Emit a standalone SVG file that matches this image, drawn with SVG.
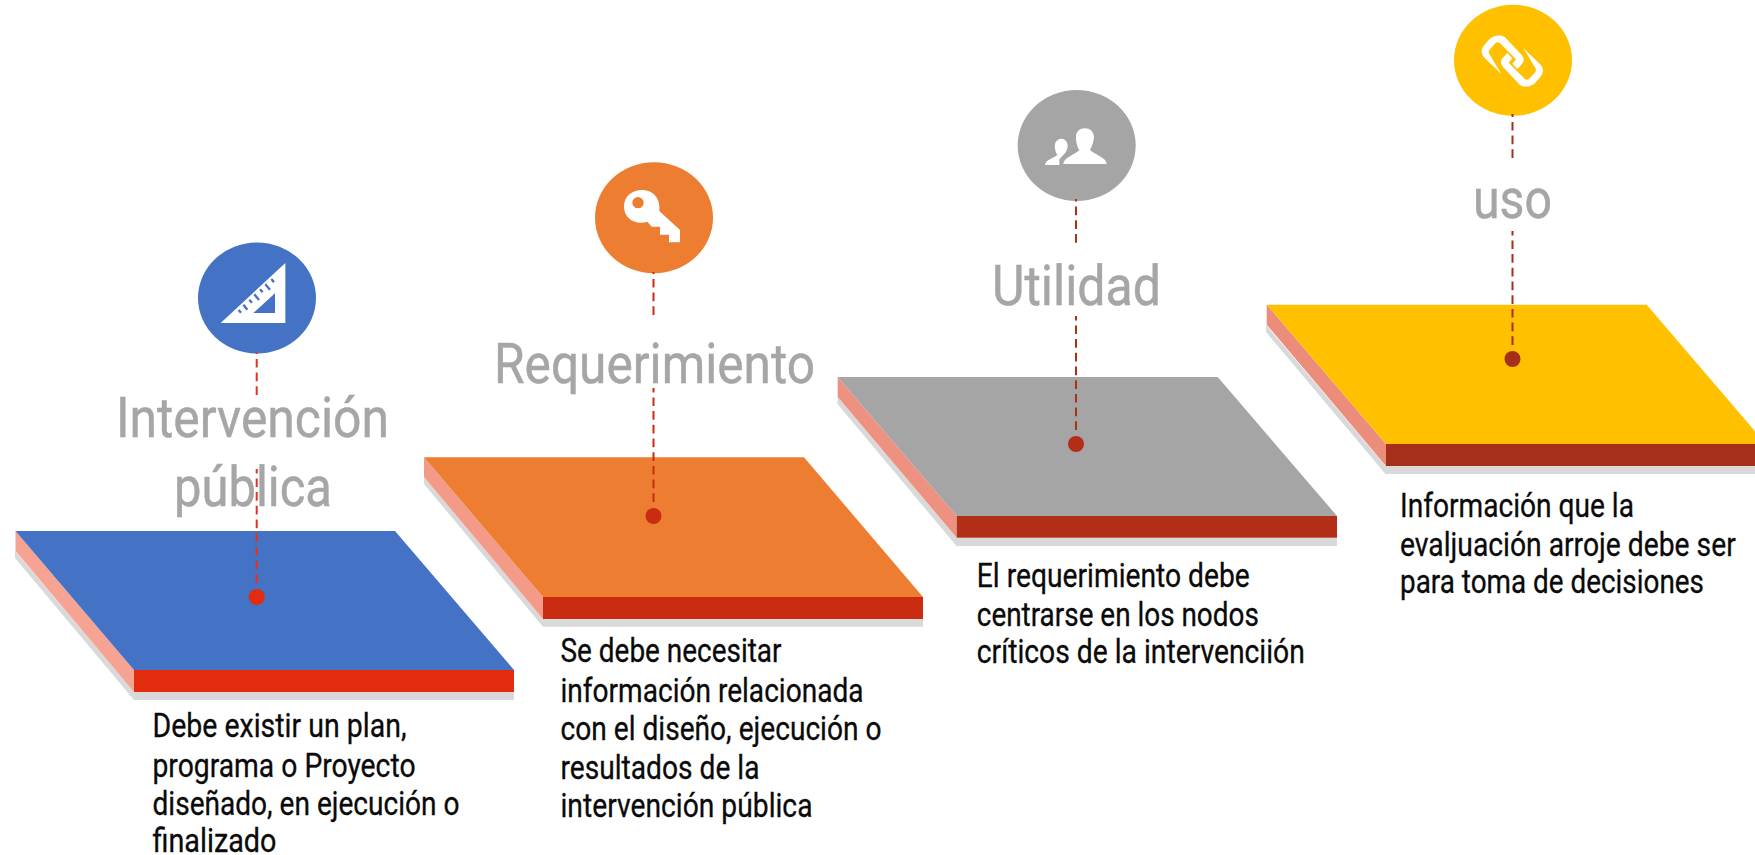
<svg xmlns="http://www.w3.org/2000/svg" width="1755" height="855" viewBox="0 0 1755 855">
<style>
text{font-family:"Roboto","Liberation Sans",sans-serif;font-weight:400}
.h{font-size:56px;fill:#A6A6A6;stroke:#A6A6A6;stroke-width:.5}
.b{font-size:32.5px;fill:#0A0A0A;stroke:#0A0A0A;stroke-width:.3}
.s{fill:#D9D9D9}
.i{fill:#fff}
.c{stroke-width:2;stroke-dasharray:8.7 5;fill:none}
</style>
<defs>
<path id="link" d="M214 222L165 175C152 162 152 148 163 135L178 118C190 106 212 102 225 112L275 165C283 175 283 183 276 192L262 207L247 191L258 178L210 130C205 126 200 126 196 130L178 150C175 155 175 160 180 165Z"/>
</defs>
<rect width="1755" height="855" fill="#fff"/>
<g id="node-intervencion">
<polygon class="s" points="15,551 15,558 134,700 514,700 514,692 134,692"/>
<polygon fill="#F6A394" points="15.5,531 134,670 134,692 15.5,551"/>
<polygon fill="#4472C4" points="15.5,531 395,531 514,670 134,670"/>
<rect x="134" y="670" width="380" height="22" fill="#E12D0E"/>
<ellipse cx="257" cy="298" rx="59" ry="55.5" fill="#4472C4"/>
<g transform="translate(160 225) scale(.33333)">
<path class="i" fill-rule="evenodd" d="M376 114V294H182ZM345 205L280 264H345Z"/>
<path fill="none" stroke="#4472C4" stroke-width="7" d="M236 255L243 263M250 239L262 254M268 224L276 233M283 208L297 225M300 193L308 202M316 178L330 194M334 162L342 172"/>
</g>
<text class="h" x="116" y="436.7" textLength="273" lengthAdjust="spacingAndGlyphs">Intervención</text>
<text class="h" x="174" y="505.7" textLength="158" lengthAdjust="spacingAndGlyphs">pública</text>
<text class="b" x="152.5" y="736.7" textLength="254" lengthAdjust="spacingAndGlyphs">Debe existir un plan,</text>
<text class="b" x="152.5" y="776.7" textLength="263" lengthAdjust="spacingAndGlyphs">programa o Proyecto</text>
<text class="b" x="152.5" y="815" textLength="307" lengthAdjust="spacingAndGlyphs">diseñado, en ejecución o</text>
<text class="b" x="152.5" y="851.7" textLength="124" lengthAdjust="spacingAndGlyphs">finalizado</text>
</g>
<g id="node-requerimiento">
<polygon class="s" points="424,477 424,484 543,626.7 923,626.7 923,619 543,619"/>
<polygon fill="#F49A88" points="424,457.3 543,597 543,619 424,477"/>
<polygon fill="#ED7D31" points="424,457.3 804,457.3 923,597 543,597"/>
<rect x="543" y="597" width="380" height="22" fill="#C92C10"/>
<ellipse cx="654" cy="217.7" rx="59" ry="55.5" fill="#ED7D31"/>
<g transform="translate(570 150) scale(.33333)">
<path class="i" fill-rule="evenodd" d="M232 215C195 226 162 205 162 170C162 135 190 120 215 120C250 120 272 145 268 183L330 240V277H297V254H270V230H245ZM187 158A17 17 0 0 0 221 158A17 17 0 0 0 187 158Z"/>
</g>
<text class="h" x="494" y="382.7" textLength="321" lengthAdjust="spacingAndGlyphs">Requerimiento</text>
<text class="b" x="560.5" y="662.3" textLength="221" lengthAdjust="spacingAndGlyphs">Se debe necesitar</text>
<text class="b" x="560.5" y="702.3" textLength="303" lengthAdjust="spacingAndGlyphs">información relacionada</text>
<text class="b" x="560.5" y="740" textLength="321" lengthAdjust="spacingAndGlyphs">con el diseño, ejecución o</text>
<text class="b" x="560.5" y="779" textLength="199" lengthAdjust="spacingAndGlyphs">resultados de la</text>
<text class="b" x="560.5" y="817.3" textLength="252" lengthAdjust="spacingAndGlyphs">intervención pública</text>
</g>
<g id="node-utilidad">
<polygon class="s" points="837.5,397 837.5,404 956.5,546 1337,546 1337,537.7 956.5,537.7"/>
<polygon fill="#EE9180" points="837.7,377 956.7,516 956.7,537.7 837.7,397"/>
<polygon fill="#A5A5A5" points="837.7,377 1217.7,377 1337,516 956.7,516"/>
<rect x="956.7" y="516" width="380.3" height="21.7" fill="#B32E16"/>
<ellipse cx="1076.7" cy="145.5" rx="59" ry="55.5" fill="#A5A5A5"/>
<g transform="translate(1000 80) scale(.33333)">
<path class="i" d="M190 252C190 232 225 225 238 210C228 195 228 175 228 170C228 155 240 145 254 145C270 145 282 155 282 172C282 185 275 200 270 210C285 225 320 232 320 252Z"/>
<path class="i" d="M135 255C135 240 160 235 172 225C165 215 163 200 165 192C168 180 178 176 184 176C195 176 203 185 203 197C203 205 200 212 196 218L178 238V255Z"/>
</g>
<text class="h" x="992" y="305" textLength="169" lengthAdjust="spacingAndGlyphs">Utilidad</text>
<text class="b" x="976.8" y="586.7" textLength="273" lengthAdjust="spacingAndGlyphs">El requerimiento debe</text>
<text class="b" x="976.8" y="626" textLength="282" lengthAdjust="spacingAndGlyphs">centrarse en los nodos</text>
<text class="b" x="976.8" y="663.3" textLength="328" lengthAdjust="spacingAndGlyphs">críticos de la intervenciión</text>
</g>
<g id="node-uso">
<polygon class="s" points="1266,325 1266,332 1385.5,474 1766,474 1766,466 1385.5,466"/>
<polygon fill="#EC8C7B" points="1266.7,304.7 1386,444 1386,466 1266.7,324.7"/>
<polygon fill="#FFC000" points="1266.7,304.7 1646.7,304.7 1766,444 1386,444"/>
<rect x="1386" y="444" width="380" height="22" fill="#A62F1B"/>
<ellipse cx="1513" cy="60.3" rx="59" ry="55.5" fill="#FFC000"/>
<g transform="translate(1430 0) scale(.33333)">
<use href="#link" class="i"/>
<use href="#link" class="i" transform="rotate(180 247 183)"/>
</g>
<text class="h" x="1473" y="218" textLength="79" lengthAdjust="spacingAndGlyphs">uso</text>
<text class="b" x="1400" y="516.7" textLength="234" lengthAdjust="spacingAndGlyphs">Información que la</text>
<text class="b" transform="translate(1400 555.7) scale(.85 1)" x="0" y="0" textLength="395" lengthAdjust="spacingAndGlyphs">evaljuación arroje debe ser</text>
<text class="b" x="1400" y="593" textLength="304" lengthAdjust="spacingAndGlyphs">para toma de decisiones</text>
</g>
<g id="connectors">
<line class="c" stroke="#E4321A" x1="256.7" y1="395" x2="256.7" y2="352"/>
<line class="c" stroke="#E4321A" x1="256.7" y1="583" x2="256.7" y2="469"/>
<circle cx="256.7" cy="597" r="8" fill="#E12D0E"/>
<line class="c" stroke="#C92C10" x1="653.5" y1="315" x2="653.5" y2="272"/>
<line class="c" stroke="#C92C10" x1="653.5" y1="502" x2="653.5" y2="388"/>
<circle cx="653.5" cy="516" r="8" fill="#C92C10"/>
<line class="c" stroke="#B32E16" x1="1076" y1="242.7" x2="1076" y2="199"/>
<line class="c" stroke="#B32E16" x1="1076" y1="430" x2="1076" y2="316"/>
<circle cx="1076" cy="444" r="8" fill="#B32E16"/>
<line class="c" stroke="#A62F1B" x1="1512.5" y1="158" x2="1512.5" y2="114"/>
<line class="c" stroke="#A62F1B" x1="1512.5" y1="345" x2="1512.5" y2="231"/>
<circle cx="1512.5" cy="359" r="8" fill="#A62F1B"/>
</g>
</svg>
